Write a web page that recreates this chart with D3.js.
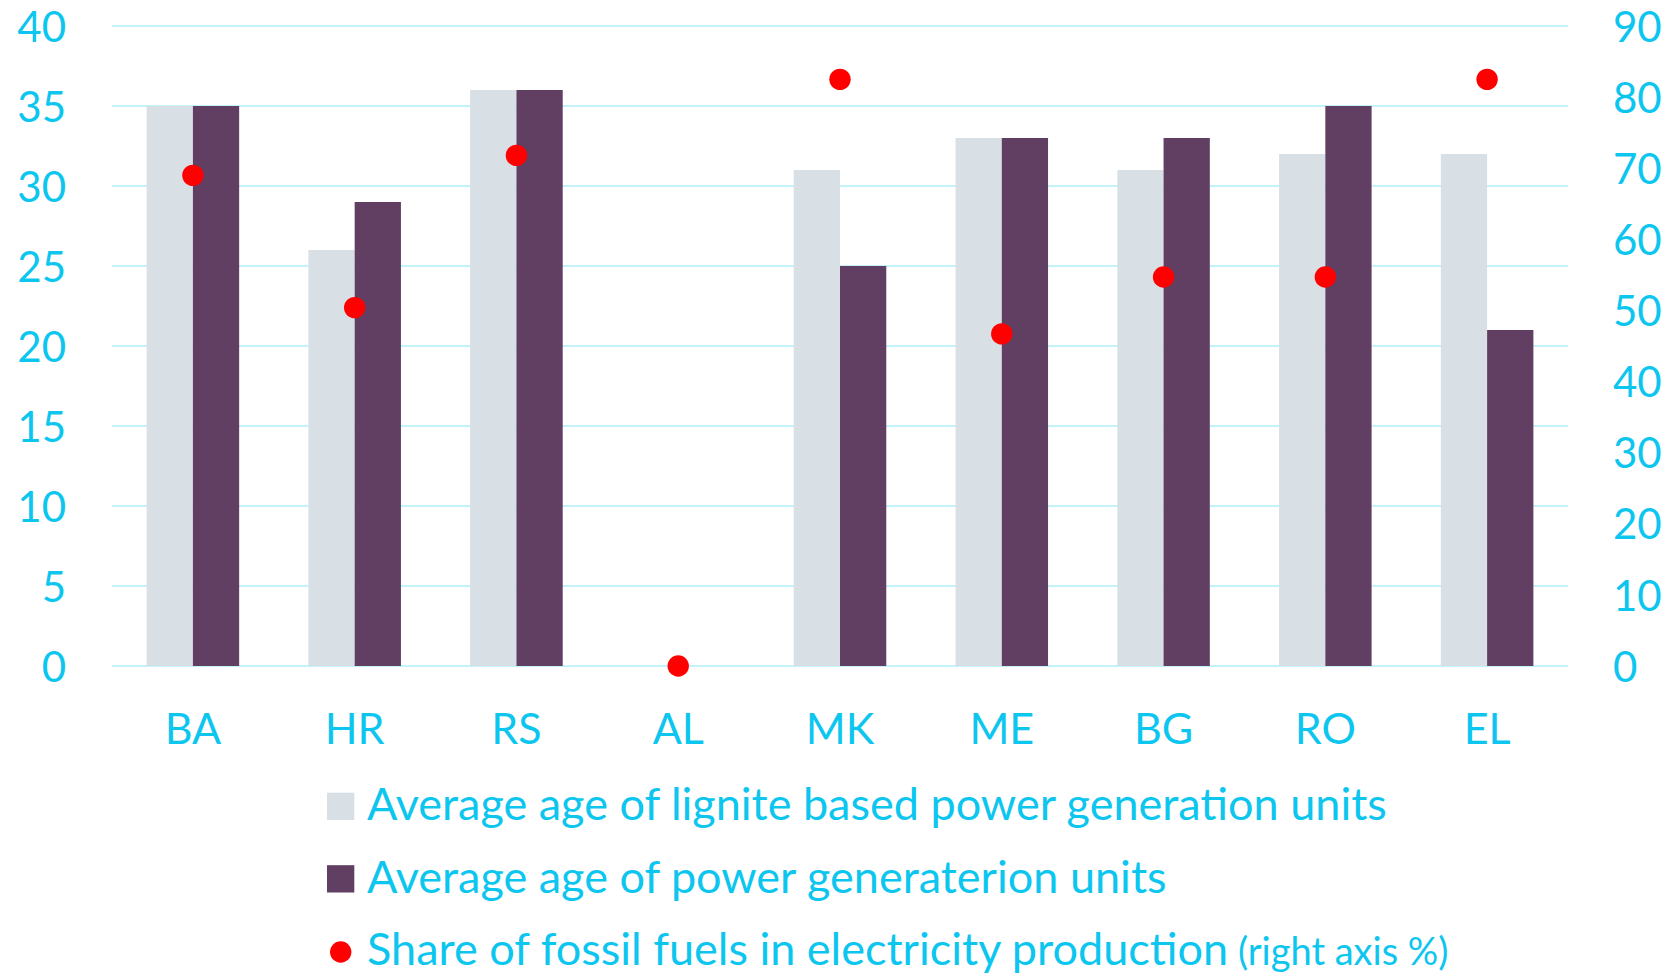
<!DOCTYPE html>
<html>
<head>
<meta charset="utf-8">
<script src="https://cdn.jsdelivr.net/npm/d3@7"></script>
<style>
  body { margin: 0; background: #ffffff; }
  text { font-family: Lato, "Open Sans", sans-serif; fill: #0cc6ef; }
</style>
</head>
<body>
<div id="chart"></div>
<script>
// Data
var countries = ["BA", "HR", "RS", "AL", "MK", "ME", "BG", "RO", "EL"];
var ligniteAge = [35, 26, 36, 0, 31, 33, 31, 32, 32];
var unitsAge = [35, 29, 36, 0, 25, 33, 33, 35, 21];
var fossilShare = [69, 50.4, 71.8, 0, 82.5, 46.7, 54.7, 54.7, 82.5];
var leftTicks = [0, 5, 10, 15, 20, 25, 30, 35, 40];
var rightTicks = [0, 10, 20, 30, 40, 50, 60, 70, 80, 90];
var seriesNames = [
  "Average age of lignite based power generation units",
  "Average age of power generaterion units",
  "Share of fossil fuels in electricity production"
];
var seriesNote = "(right axis %)";

// Set up SVG definitions
var svgWidth = 1670;
var svgHeight = 975;

var margin = { top: 26, right: 102, bottom: 309, left: 112 };
var width = svgWidth - margin.left - margin.right;
var height = svgHeight - margin.top - margin.bottom;

var colors = { lignite: "#d8e0e6", units: "#603f63", dot: "#ff0000", grid: "#c4f2fb" };

var svg = d3.select("#chart")
  .append("svg")
  .attr("width", svgWidth)
  .attr("height", svgHeight);

var chartGroup = svg.append("g")
  .attr("transform", `translate(${margin.left}, ${margin.top})`);

// Scales
var xScale = d3.scaleBand()
  .domain(countries)
  .range([0, width])
  .paddingInner(0.428)
  .paddingOuter(0.214);

var xInner = d3.scaleBand()
  .domain(["lignite", "units"])
  .range([0, xScale.bandwidth()]);

var yLeft = d3.scaleLinear().domain([0, 40]).range([height, 0]);
var yRight = d3.scaleLinear().domain([0, 90]).range([height, 0]);

// Gridlines (left axis)
chartGroup.append("g")
  .selectAll("line")
  .data(leftTicks)
  .enter()
  .append("line")
  .attr("x1", 0)
  .attr("x2", width)
  .attr("y1", d => yLeft(d))
  .attr("y2", d => yLeft(d))
  .attr("stroke", colors.grid)
  .attr("stroke-width", 2);

// Left axis labels
var leftAxis = d3.axisLeft(yLeft).tickValues(leftTicks).tickSize(0).tickPadding(46);
var leftAxisGroup = chartGroup.append("g").call(leftAxis);
leftAxisGroup.select(".domain").remove();
leftAxisGroup.selectAll("text")
  .attr("font-size", "42px")
  .attr("font-family", null)
  .attr("fill", null)
  .attr("dy", "0.36em");

// Right axis labels
var rightAxis = d3.axisRight(yRight).tickValues(rightTicks).tickSize(0).tickPadding(45);
var rightAxisGroup = chartGroup.append("g")
  .attr("transform", `translate(${width}, 0)`)
  .call(rightAxis);
rightAxisGroup.select(".domain").remove();
rightAxisGroup.selectAll("text")
  .attr("font-size", "42px")
  .attr("font-family", null)
  .attr("fill", null)
  .attr("dy", "0.36em");

// Bottom axis labels
var bottomAxis = d3.axisBottom(xScale).tickSize(0).tickPadding(47);
var bottomAxisGroup = chartGroup.append("g")
  .attr("transform", `translate(0, ${height})`)
  .call(bottomAxis);
bottomAxisGroup.select(".domain").remove();
bottomAxisGroup.selectAll("text")
  .attr("font-size", "43px")
  .attr("font-family", null)
  .attr("fill", null)
  .attr("dy", "0.71em");

// Bars
var barData = countries.map((c, i) => ({ country: c, lignite: ligniteAge[i], units: unitsAge[i] }));

var groups = chartGroup.selectAll(".country")
  .data(barData)
  .enter()
  .append("g")
  .attr("class", "country")
  .attr("transform", d => `translate(${xScale(d.country)}, 0)`);

groups.selectAll("rect")
  .data(d => ["lignite", "units"].map(k => ({ key: k, value: d[k] })))
  .enter()
  .append("rect")
  .attr("x", d => xInner(d.key))
  .attr("width", xInner.bandwidth())
  .attr("y", d => yLeft(d.value))
  .attr("height", d => height - yLeft(d.value))
  .attr("fill", d => colors[d.key]);

// Fossil share dots (right axis)
chartGroup.selectAll(".dot")
  .data(fossilShare)
  .enter()
  .append("circle")
  .attr("class", "dot")
  .attr("cx", (d, i) => xScale(countries[i]) + xScale.bandwidth() / 2)
  .attr("cy", d => yRight(d))
  .attr("r", 10.7)
  .attr("fill", colors.dot);

// Legend
var legend = svg.append("g").attr("transform", "translate(327, 820)");
var rowStep = 72.5;

legend.append("rect")
  .attr("x", 0).attr("y", -27.3)
  .attr("width", 27.3).attr("height", 27.3)
  .attr("fill", colors.lignite);

legend.append("rect")
  .attr("x", 0).attr("y", rowStep - 27.3)
  .attr("width", 27.3).attr("height", 27.3)
  .attr("fill", colors.units);

legend.append("circle")
  .attr("cx", 13.7).attr("cy", 2 * rowStep - 13)
  .attr("r", 10.7)
  .attr("fill", colors.dot);

seriesNames.forEach(function(name, i) {
  var t = legend.append("text")
    .attr("x", 40)
    .attr("y", i * rowStep)
    .attr("font-size", "45px")
    .text(name);
  if (i === 2) {
    t.append("tspan")
      .attr("font-size", "38px")
      .text(" " + seriesNote);
  }
});
</script>
</body>
</html>
